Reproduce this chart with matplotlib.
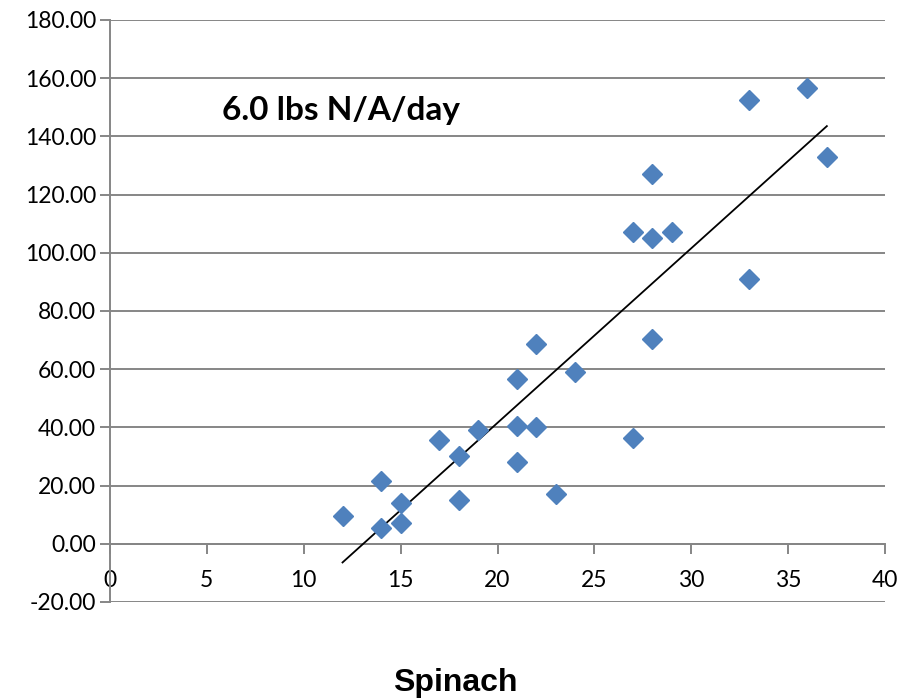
import matplotlib.pyplot as plt
import numpy as np

# Data
days = [12, 14, 14, 15, 15, 17, 18, 18, 19, 21, 21, 21, 22, 22, 23, 24,
        27, 27, 28, 28, 28, 29, 33, 33, 36, 37]
n_lbs = [9.5, 21.5, 5.5, 14.0, 7.0, 35.5, 30.0, 15.0, 39.0, 56.5, 40.5, 28.0,
         68.5, 40.0, 17.0, 59.0, 107.0, 36.5, 127.0, 105.0, 70.5, 107.0,
         152.5, 91.0, 156.5, 133.0]
rate_label = "6.0 lbs N/A/day"
x_label = "Spinach"

x = np.array(days, dtype=float)
y = np.array(n_lbs)

# Linear trend
k, b = np.polyfit(x, y, 1)
xt = np.array([x.min(), x.max()])

fig = plt.figure(figsize=(8.99, 7.0), dpi=100)
ax = fig.add_axes([0.1224, 0.14, 0.862, 0.8315])

# spine position first: it resets the axis ticks
ax.spines["bottom"].set_position(("data", 0))
for s in ["top", "right"]:
    ax.spines[s].set_visible(False)
for s in ["bottom", "left"]:
    ax.spines[s].set_color("#868686")
    ax.spines[s].set_linewidth(1.4)

ax.set_xlim(0, 40)
ax.set_ylim(-20, 180)
yt = np.arange(-20, 181, 20)
ax.set_yticks(yt)
ax.set_yticklabels(["%.2f" % v for v in yt], family="Lato", fontsize=16.5)
ax.set_xticks(np.arange(0, 41, 5))
ax.set_xticklabels([str(v) for v in range(0, 41, 5)], family="Lato", fontsize=16.5)

ax.grid(axis="y", color="#868686", linewidth=1.4)
ax.set_axisbelow(True)
ax.tick_params(axis="x", direction="out", length=7, color="#868686", width=1.4, pad=12)
ax.tick_params(axis="y", length=7, color="#868686", width=1.4, pad=3)

ax.plot(xt, k * xt + b, color="black", linewidth=1.3, zorder=3)
ax.plot(x, y, linestyle="none", marker="D", markersize=10.5, color="#4F81BD",
        markeredgecolor="#4F81BD", zorder=4)

ax.text(5.8, 149, rate_label, family="Lato", fontweight="bold", fontsize=24,
        va="center", ha="left")

fig.text(0.506, 0.024, x_label, family="Liberation Sans", fontweight="bold",
         fontsize=23, ha="center", va="center")

plt.savefig("out.png", dpi=100)
